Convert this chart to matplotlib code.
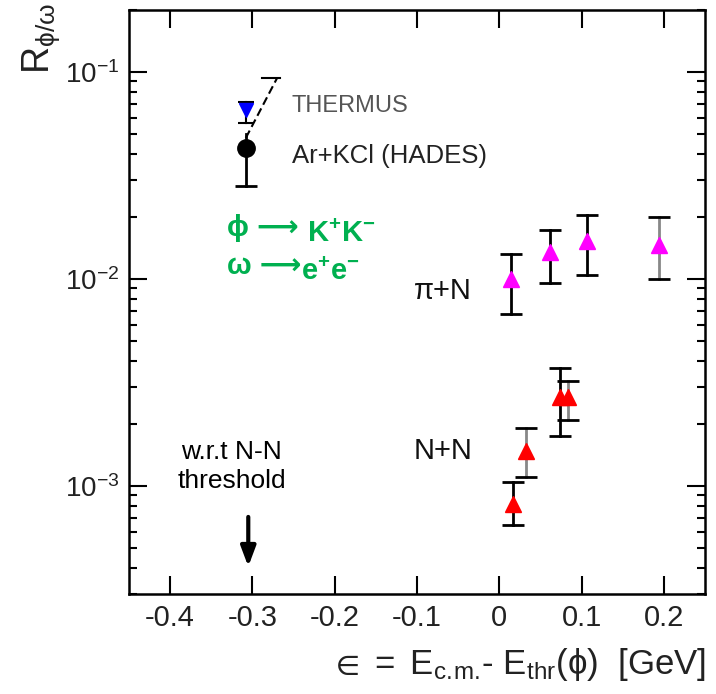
import matplotlib
matplotlib.use('Agg')
import matplotlib.pyplot as plt
from matplotlib.ticker import LogLocator, LogFormatterSciNotation, NullFormatter, FixedLocator

plt.rcParams['font.family'] = ['Liberation Sans', 'DejaVu Sans']
plt.rcParams['mathtext.fontset'] = 'custom'
plt.rcParams['mathtext.rm'] = 'Liberation Sans'
plt.rcParams['mathtext.it'] = 'Liberation Sans'
plt.rcParams['mathtext.bf'] = 'Liberation Sans:bold'
plt.rcParams['mathtext.default'] = 'regular'
plt.rcParams['axes.unicode_minus'] = False

# pi+N data (magenta)
pin_x = [0.014, 0.061, 0.106, 0.194]
pin_y = [0.0100, 0.0135, 0.0152, 0.0146]
pin_lo = [0.00676, 0.0096, 0.0105, 0.0100]
pin_hi = [0.0132, 0.0173, 0.0204, 0.0200]
pin_bar = ['k', 'k', 'k', '#888888']

# N+N data (red)
nn_x = [0.016, 0.032, 0.073, 0.083]
nn_y = [8.2e-4, 1.47e-3, 2.7e-3, 2.7e-3]
nn_lo = [6.5e-4, 1.1e-3, 1.75e-3, 2.08e-3]
nn_hi = [1.04e-3, 1.9e-3, 3.7e-3, 3.22e-3]
nn_bar = ['k', '#888888', 'k', '#888888']

# Ar+KCl (HADES) and THERMUS
hades_x, hades_y, hades_lo, hades_hi = -0.308, 0.0427, 0.028, 0.05
therm_x, therm_y, therm_lo, therm_hi = -0.308, 0.0658, 0.0567, 0.0716
therm_band_x = [-0.308, -0.270]
therm_band_y = [0.048, 0.0935]

fig = plt.figure(figsize=(7.16, 6.94), dpi=100)
ax = fig.add_axes([0.180, 0.144, 0.805, 0.842])
ax.set_yscale('log')
ax.set_xlim(-0.45, 0.25)
ax.set_ylim(3e-4, 0.2)

cap = 16


def draw_points(xs, ys, los, his, bars, color, marker):
    for x, y, lo, hi, bc in zip(xs, ys, los, his, bars):
        ax.plot([x, x], [lo, hi], color=bc, lw=2, zorder=2)
        ax.plot([x, x], [lo, hi], ls='none', marker='_', ms=cap, mew=2, color='k', zorder=3)
    ax.plot(xs, ys, ls='none', marker=marker, ms=11.5, color=color, zorder=4)


draw_points(pin_x, pin_y, pin_lo, pin_hi, pin_bar, '#ff00ff', '^')
draw_points(nn_x, nn_y, nn_lo, nn_hi, nn_bar, '#ff0000', '^')

# HADES point
ax.plot([hades_x, hades_x], [hades_lo, hades_hi], color='k', lw=2, zorder=2)
ax.plot([hades_x], [hades_lo], marker='_', ms=cap, mew=2, color='k', zorder=3)
ax.plot([hades_x], [hades_y], marker='o', ms=12.5, color='k', zorder=4)

# THERMUS point with band
ax.plot(therm_band_x, therm_band_y, color='k', lw=1.5, ls=(0, (4, 2)), zorder=2)
ax.plot([therm_band_x[1] - 0.018, therm_band_x[1] + 0.003], [therm_band_y[1]] * 2, color='k', lw=1.5)
ax.plot([therm_x, therm_x], [therm_lo, therm_hi], color='k', lw=1.5, zorder=2)
ax.plot([therm_x] * 2, [therm_lo, therm_hi], ls='none', marker='_', ms=12, mew=1.5, color='k', zorder=3)
ax.plot([therm_x], [therm_y], marker='v', ms=10, color='#0000ff', zorder=4)

# labels inside the plot
ax.text(-0.252, 0.0683, 'THERMUS', fontsize=17, color='#555555', va='center', ha='left')
ax.text(-0.252, 0.0391, 'Ar+KCl (HADES)', fontsize=18.5, color='#222222', va='center', ha='left')

# decay channels: plain text for the arrow, mathtext for the charges
green = '#00b050'
t1 = ax.text(-0.331, 0.0162, 'ϕ ⟶ ', fontsize=21, color=green, va='baseline', ha='left',
             fontweight='bold')
ax.annotate(r'$\mathregular{K^{+}K^{-}}$', xy=(1, 0), xycoords=t1, fontsize=21, color=green,
            fontweight='bold', va='baseline', ha='left')
t2 = ax.text(-0.331, 0.0106, 'ω ⟶', fontsize=21, color=green, va='baseline', ha='left',
             fontweight='bold')
ax.annotate(r'$\mathregular{e^{+}e^{-}}$', xy=(1, 0), xycoords=t2, fontsize=21, color=green,
            fontweight='bold', va='baseline', ha='left')

ax.text(-0.104, 0.00871, 'π+N', fontsize=21, color='#111111', va='center', ha='left')
ax.text(-0.104, 1.48e-3, 'N+N', fontsize=21, color='#111111', va='center', ha='left')
ax.text(-0.325, 1.24e-3, 'w.r.t N-N\nthreshold', fontsize=19, color='k', va='center',
        ha='center', multialignment='center', linespacing=1.3)
ax.annotate('', xy=(-0.305, 3.95e-4), xytext=(-0.305, 7.3e-4),
            arrowprops=dict(arrowstyle='-|>,head_width=0.45,head_length=1.2', lw=3, color='k'))

# axes styling
ax.xaxis.set_major_locator(FixedLocator([-0.4, -0.3, -0.2, -0.1, 0.0, 0.1, 0.2]))
ax.set_xticklabels(['-0.4', '-0.3', '-0.2', '-0.1', '0', '0.1', '0.2'])
ax.yaxis.set_major_locator(LogLocator(base=10, numticks=10))
ax.yaxis.set_major_formatter(LogFormatterSciNotation())
ax.yaxis.set_minor_locator(LogLocator(base=10, subs=range(2, 10), numticks=20))
ax.yaxis.set_minor_formatter(NullFormatter())
ax.tick_params(which='both', direction='in', top=True, right=True, width=1.5,
               labelcolor='#222222')
ax.tick_params(axis='x', labelsize=21)
ax.tick_params(axis='y', labelsize=20)
ax.tick_params(which='major', length=13, pad=7)
ax.tick_params(which='minor', length=6)
for s in ax.spines.values():
    s.set_linewidth(1.8)

fig.text(0.057, 0.995, r'$\mathregular{R_{ϕ/ω}}$', rotation=90, fontsize=27,
         ha='center', va='top', color='#222222')
fig.text(0.986, 0.042, r'$\mathregular{∈\ =\ E_{c.\!m.\!}\text{-}\ E_{thr}(ϕ)\ \ [GeV]}$', fontsize=25,
         ha='right', va='center', color='#222222')

fig.savefig('out.png', dpi=100)
